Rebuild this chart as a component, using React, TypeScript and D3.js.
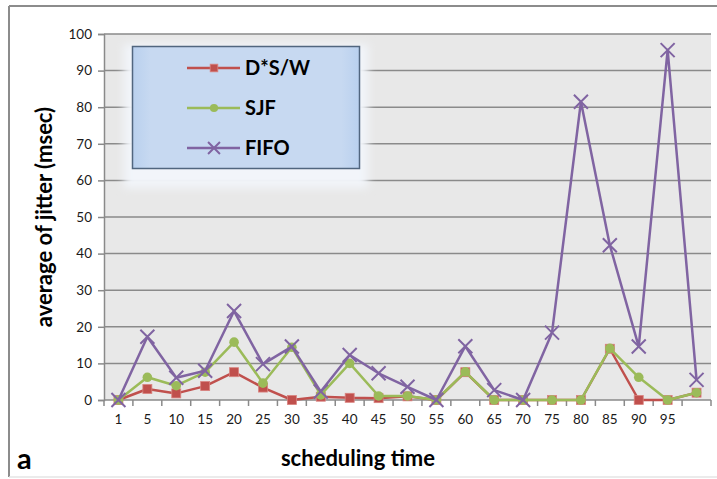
import { useEffect, useRef } from "react";
import * as d3 from "d3";

const categories = ["1", "5", "10", "15", "20", "25", "30", "35", "40", "45", "50", "55", "60", "65", "70", "75", "80", "85", "90", "95", ""];
const dswValues = [0, 3, 1.8, 3.8, 7.6, 3.4, 0, 0.9, 0.6, 0.5, 1, 0, 7.6, 0, 0, 0, 0, 14, 0, 0, 2];
const sjfValues = [0, 6.2, 3.9, 7.6, 15.8, 4.6, 14.4, 1.4, 10, 1.1, 1.1, 0, 7.7, 0, 0, 0, 0, 14.1, 6.2, 0, 2];
const fifoValues = [0, 17.3, 6.1, 8, 24.3, 9.8, 14.6, 2.3, 12.3, 7.3, 3.6, 0, 14.7, 2.7, 0, 18.4, 81.5, 42.3, 14.6, 95.6, 5.5];
const yTicks = [0, 10, 20, 30, 40, 50, 60, 70, 80, 90, 100];

const series = [
  { name: "D*S/W", values: dswValues, color: "#c0504d", marker: "square" },
  { name: "SJF", values: sjfValues, color: "#9bbb59", marker: "circle" },
  { name: "FIFO", values: fifoValues, color: "#8064a2", marker: "cross" },
];

const FONT = "Lato, 'Open Sans', sans-serif";

export default function App() {
  const svgRef = useRef<SVGSVGElement>(null);

  useEffect(() => {
    document.body.style.margin = "0";
    if (!svgRef.current) return;
    const svg = d3.select(svgRef.current);
    svg.selectAll("*").remove();

    const plot = { left: 104, right: 711, top: 34, bottom: 400 };

    const x = d3
      .scaleBand()
      .domain(categories.map((_, i) => String(i)))
      .range([plot.left, plot.right]);
    const y = d3.scaleLinear().domain([0, 100]).range([plot.bottom, plot.top]);
    const cx = (i: number) => (x(String(i)) || 0) + x.bandwidth() / 2;

    // Outer frame
    svg.append("rect").attr("width", 717).attr("height", 479).attr("fill", "#fff");
    svg.append("line").attr("x1", 9).attr("x2", 717).attr("y1", 6).attr("y2", 6)
      .attr("stroke", "#8c8c8c").attr("stroke-width", 2);
    svg.append("line").attr("x1", 9).attr("x2", 9).attr("y1", 6).attr("y2", 477)
      .attr("stroke", "#8c8c8c").attr("stroke-width", 2);
    svg.append("line").attr("x1", 9).attr("x2", 717).attr("y1", 477).attr("y2", 477)
      .attr("stroke", "#e4e4e4").attr("stroke-width", 1.5);

    // Plot background
    svg.append("rect")
      .attr("x", plot.left).attr("y", plot.top)
      .attr("width", plot.right - plot.left).attr("height", plot.bottom - plot.top)
      .attr("fill", "#e8e8e8");

    // Grid lines + y axis
    const yAxis = svg.append("g")
      .attr("transform", `translate(${plot.left},0)`)
      .call(d3.axisLeft(y).tickValues(yTicks).tickSize(6).tickPadding(6));
    yAxis.select(".domain").attr("stroke", "#8a8a8a").attr("stroke-width", 1.5);
    yAxis.selectAll(".tick line").attr("stroke", "#8a8a8a").attr("stroke-width", 1.5);
    yAxis.selectAll(".tick text")
      .attr("fill", "#1a1a1a").attr("font-size", "13.5px").attr("font-family", FONT);

    svg.append("g")
      .selectAll("line")
      .data(yTicks.filter((t) => t > 0))
      .join("line")
      .attr("x1", plot.left).attr("x2", plot.right)
      .attr("y1", (d) => y(d)).attr("y2", (d) => y(d))
      .attr("stroke", "#8a8a8a").attr("stroke-width", 1.5);

    // X axis
    const xAxis = svg.append("g")
      .attr("transform", `translate(0,${plot.bottom})`)
      .call(d3.axisBottom(x).tickSize(0).tickPadding(14).tickFormat((d) => categories[+d]));
    xAxis.select(".domain").remove();
    xAxis.selectAll(".tick text")
      .attr("fill", "#1a1a1a").attr("font-size", "13.5px").attr("font-family", FONT);
    svg.append("line").attr("x1", plot.left).attr("x2", plot.right)
      .attr("y1", plot.bottom).attr("y2", plot.bottom)
      .attr("stroke", "#8a8a8a").attr("stroke-width", 1.5);
    svg.append("g")
      .selectAll("line")
      .data(d3.range(categories.length + 1))
      .join("line")
      .attr("x1", (i) => plot.left + i * x.step()).attr("x2", (i) => plot.left + i * x.step())
      .attr("y1", plot.bottom).attr("y2", plot.bottom + 6)
      .attr("stroke", "#8a8a8a").attr("stroke-width", 1.5);

    // Series
    const drawMarker = (g: any, type: string, color: string, px: number, py: number, k = 1) => {
      if (type === "square") {
        const h = 4.5 * k;
        g.append("rect").attr("x", px - h).attr("y", py - h).attr("width", 2 * h).attr("height", 2 * h)
          .attr("fill", color).attr("stroke", "#d9837f").attr("stroke-width", 0.8);
      } else if (type === "circle") {
        g.append("circle").attr("cx", px).attr("cy", py).attr("r", 4.8 * k).attr("fill", color);
      } else {
        const s = 7 * k;
        g.append("path")
          .attr("d", `M${px - s},${py - s}L${px + s},${py + s}M${px - s},${py + s}L${px + s},${py - s}`)
          .attr("stroke", color).attr("stroke-width", 2).attr("fill", "none");
      }
    };

    const line = d3.line<number>().x((_, i) => cx(i)).y((d) => y(d));
    series.forEach((s) => {
      const g = svg.append("g");
      g.append("path").datum(s.values).attr("d", line)
        .attr("fill", "none").attr("stroke", s.color).attr("stroke-width", 2.5)
        .attr("stroke-linejoin", "round");
      s.values.forEach((v, i) => drawMarker(g, s.marker, s.color, cx(i), y(v)));
    });

    // Legend
    const defs = svg.append("defs");
    const blur = defs.append("filter").attr("id", "glow").attr("x", "-20%").attr("y", "-20%")
      .attr("width", "140%").attr("height", "140%");
    blur.append("feGaussianBlur").attr("stdDeviation", 4);
    const lg = defs.append("linearGradient").attr("id", "legendFill")
      .attr("x1", "0%").attr("x2", "100%").attr("y1", "0%").attr("y2", "0%");
    lg.append("stop").attr("offset", "0%").attr("stop-color", "#b9d0ee");
    lg.append("stop").attr("offset", "8%").attr("stop-color", "#c7d9f1");
    lg.append("stop").attr("offset", "92%").attr("stop-color", "#c7d9f1");
    lg.append("stop").attr("offset", "100%").attr("stop-color", "#b9d0ee");

    svg.append("rect").attr("x", 124).attr("y", 44).attr("width", 244).attr("height", 144)
      .attr("fill", "#f2f5fa").attr("filter", "url(#glow)");
    svg.append("rect").attr("x", 132.5).attr("y", 46.5).attr("width", 227).attr("height", 122)
      .attr("fill", "url(#legendFill)").attr("stroke", "#51667f").attr("stroke-width", 1.5);

    const rowY = [68, 108, 148];
    series.forEach((s, i) => {
      const g = svg.append("g");
      g.append("line").attr("x1", 187).attr("x2", 240).attr("y1", rowY[i]).attr("y2", rowY[i])
        .attr("stroke", s.color).attr("stroke-width", 2.5);
      drawMarker(g, s.marker, s.color, 214, rowY[i], 0.85);
      g.append("text").attr("x", 245).attr("y", rowY[i]).attr("dy", "0.36em")
        .attr("font-family", FONT).attr("font-weight", "bold").attr("font-size", "20px")
        .attr("fill", "#000").text(s.name);
    });

    // Titles
    svg.append("text")
      .attr("transform", `translate(52,217) rotate(-90)`)
      .attr("text-anchor", "middle")
      .attr("font-family", FONT).attr("font-weight", "bold").attr("font-size", "22px")
      .attr("fill", "#000").text("average of jitter (msec)");
    svg.append("text")
      .attr("x", 358).attr("y", 466).attr("text-anchor", "middle")
      .attr("font-family", FONT).attr("font-weight", "bold").attr("font-size", "22px")
      .attr("fill", "#000").text("scheduling time");
    svg.append("text")
      .attr("x", 17).attr("y", 469)
      .attr("font-family", FONT).attr("font-weight", "bold").attr("font-size", "29px")
      .attr("fill", "#000").text("a");
  }, []);

  return <svg ref={svgRef} width={717} height={479} style={{ display: "block" }} />;
}
